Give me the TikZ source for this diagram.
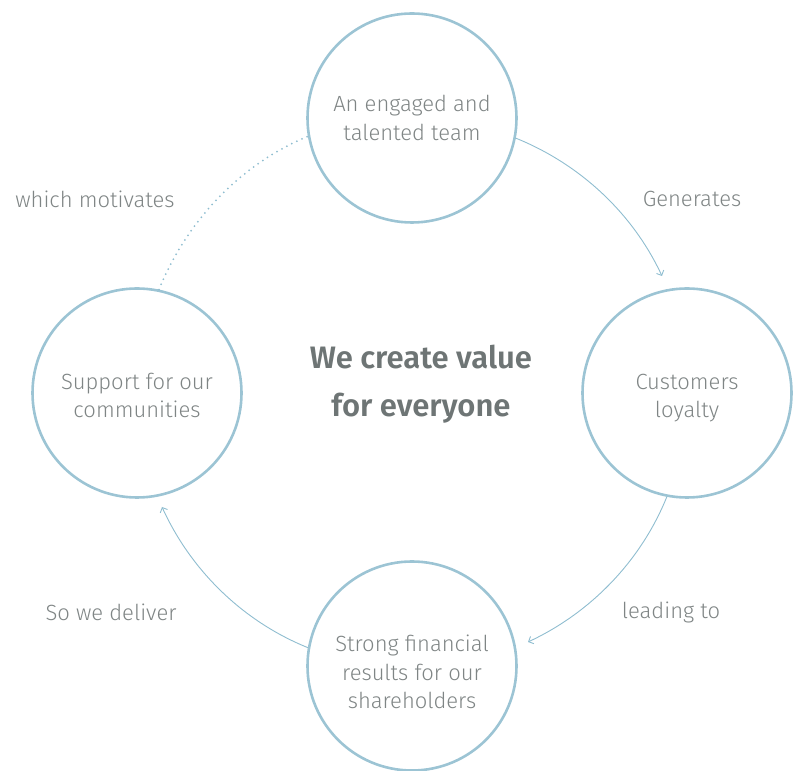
\documentclass[tikz,border=0pt]{standalone}
\usepackage{fontspec}
\setmainfont{Fira Sans Light}[BoldFont={Fira Sans SemiBold}]
\usetikzlibrary{arrows.meta}
\definecolor{ring}{HTML}{9CC4D4}
\definecolor{flowc}{HTML}{8FBDD0}
\definecolor{txt}{HTML}{7F8585}
\definecolor{titlec}{HTML}{6E7575}
\tikzset{
  ring/.style={circle, draw=ring, line width=2.6pt, minimum size=209pt, inner sep=0pt},
  ringtext/.style={align=center, text=txt, inner sep=0pt, font=\fontsize{22}{28.5}\selectfont},
  flow/.style={draw=flowc, line width=0.9pt, -{Straight Barb[length=4pt,width=8pt]}},
  dots/.style={draw=flowc, line width=2pt, line cap=round, dash pattern=on 0pt off 5.6pt},
  lab/.style={text=txt, font=\fontsize{22}{26}\selectfont, inner sep=0pt},
}
\begin{document}
\begin{tikzpicture}[x=1pt,y=1pt]
\useasboundingbox (0,0) rectangle (801,771);
\node[ring] (top) at (412,653) {};
\node[ring] (right) at (687,378) {};
\node[ring] (bottom) at (412,105) {};
\node[ring] (left) at (137,378) {};
\node[ringtext, yshift=0pt] (toptext) at (top) {An engaged and\\talented team};
\node[ringtext, yshift=-5pt] (righttext) at (right) {Customers\\loyalty};
\node[ringtext, yshift=-6pt] (bottomtext) at (bottom) {Strong financial\\results for our\\shareholders};
\node[ringtext, yshift=-2.5pt] (lefttext) at (left) {Support for our\\communities};
\node[text=titlec, font=\bfseries\fontsize{31}{48}\selectfont, align=center, inner sep=0pt] (title) at (421,387) {We create value\\for everyone};
\node[lab] (l1) at (95,572) {which motivates};
\node[lab] (l2) at (692,572) {Generates};
\node[lab] (l3) at (111,159) {So we deliver};
\node[lab] (l4) at (671,159) {leading to};
\coordinate (t1) at (662,495);
\coordinate (t2) at (528,129);
\coordinate (t3) at (162,264);
\draw[flow] (top.-11) to[out=-22, in=115, looseness=0.88] (t1);
\draw[flow] (right.259.5) to[out=-112, in=25, looseness=0.88] (t2);
\draw[flow] (bottom.170) to[out=158, in=-65.5, looseness=0.88] (t3);
\draw[dots] (left.78.5) to[out=68, in=202.5, looseness=0.88] (top.190);
\end{tikzpicture}
\end{document}
